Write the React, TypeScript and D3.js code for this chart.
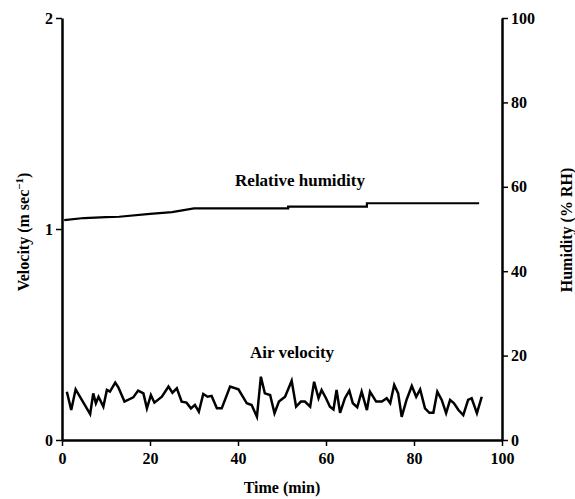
import React, { useEffect, useRef } from 'react';
import * as d3 from 'd3';

// air velocity (m/s)
const velTime = [1.1, 2.1, 3.1, 6.4, 7.1, 7.7, 8.3, 9.4, 10.2, 10.9, 12.1, 12.8, 14.2, 16.2, 17.3, 18.5, 19.3, 20.2, 21.0, 22.7, 24.2, 25.1, 26.1, 27.2, 28.3, 29.3, 30.2, 31.1, 32.1, 33.1, 34.0, 35.2, 36.3, 38.2, 40.1, 42.0, 43.1, 44.3, 45.2, 46.1, 47.3, 48.3, 49.3, 50.7, 52.2, 53.2, 54.3, 55.2, 56.4, 57.3, 58.3, 59.0, 60.0, 60.9, 61.7, 62.4, 63.2, 64.3, 65.3, 66.1, 67.1, 68.1, 69.3, 70.0, 71.4, 72.7, 73.8, 74.6, 75.5, 76.4, 77.2, 78.3, 79.5, 80.5, 81.4, 82.5, 83.5, 84.4, 85.3, 86.3, 87.3, 88.2, 89.1, 90.1, 91.2, 92.3, 93.1, 94.3, 95.4];
const velValue = [0.229, 0.142, 0.24, 0.123, 0.221, 0.174, 0.205, 0.158, 0.237, 0.229, 0.272, 0.25, 0.182, 0.202, 0.234, 0.221, 0.15, 0.213, 0.177, 0.205, 0.253, 0.224, 0.245, 0.182, 0.177, 0.15, 0.166, 0.134, 0.218, 0.205, 0.209, 0.15, 0.15, 0.253, 0.24, 0.174, 0.166, 0.11, 0.3, 0.221, 0.213, 0.127, 0.182, 0.205, 0.281, 0.158, 0.182, 0.182, 0.158, 0.276, 0.198, 0.237, 0.198, 0.158, 0.145, 0.237, 0.129, 0.198, 0.234, 0.174, 0.155, 0.229, 0.142, 0.229, 0.182, 0.182, 0.198, 0.174, 0.261, 0.221, 0.11, 0.19, 0.256, 0.205, 0.24, 0.15, 0.129, 0.129, 0.229, 0.19, 0.127, 0.19, 0.174, 0.142, 0.118, 0.19, 0.198, 0.127, 0.205];

// relative humidity (% RH), a slow stepped rise
const rhTime = [0.5, 5, 10, 13, 20, 25, 30, 51.4, 51.4, 69.3, 69.3, 94.8];
const rhValue = [52.1, 52.6, 52.8, 52.9, 53.6, 54.0, 54.9, 54.9, 55.3, 55.3, 56.1, 56.1];

const timeTicks = [0, 20, 40, 60, 80, 100];
const velTicks = [0, 1, 2];
const rhTicks = [0, 20, 40, 60, 80, 100];

const App = () => {
  const svgRef = useRef<SVGSVGElement>(null);

  useEffect(() => {
    const width = 575;
    const height = 499;
    const left = 62, right = 502, top = 18, bottom = 440;
    const font = '"Liberation Serif", "Times New Roman", serif';

    const svg = d3.select(svgRef.current);
    svg.selectAll('*').remove();
    svg.attr('width', width).attr('height', height);

    const x = d3.scaleLinear().domain([0, 100]).range([left, right]);
    const yVel = d3.scaleLinear().domain([0, 2]).range([bottom, top]);
    const yRh = d3.scaleLinear().domain([0, 100]).range([bottom, top]);

    const styleAxis = (g: any) => {
      g.select('.domain').attr('stroke', '#000').attr('stroke-width', 2.5);
      g.selectAll('.tick line').attr('stroke', '#000').attr('stroke-width', 1.5);
      g.selectAll('.tick text')
        .attr('fill', '#000')
        .style('font-family', font)
        .style('font-size', '16px')
        .style('font-weight', 'bold');
    };

    svg.append('g')
      .attr('transform', `translate(0,${bottom})`)
      .call(d3.axisBottom(x).tickValues(timeTicks).tickSize(6).tickSizeOuter(0).tickPadding(7))
      .call(styleAxis);

    svg.append('g')
      .attr('transform', `translate(${left},0)`)
      .call(d3.axisLeft(yVel).tickValues(velTicks).tickFormat(d3.format('d')).tickSize(6).tickSizeOuter(0).tickPadding(3))
      .call(styleAxis);

    svg.append('g')
      .attr('transform', `translate(${right},0)`)
      .call(d3.axisRight(yRh).tickValues(rhTicks).tickSize(6).tickSizeOuter(0).tickPadding(3))
      .call(styleAxis);

    const velData = velTime.map((t, i) => [t, velValue[i]] as [number, number]);
    const rhData = rhTime.map((t, i) => [t, rhValue[i]] as [number, number]);

    svg.append('path')
      .datum(velData)
      .attr('fill', 'none')
      .attr('stroke', '#000')
      .attr('stroke-width', 2.5)
      .attr('stroke-linejoin', 'miter')
      .attr('d', d3.line<[number, number]>().x(d => x(d[0])).y(d => yVel(d[1])));

    svg.append('path')
      .datum(rhData)
      .attr('fill', 'none')
      .attr('stroke', '#000')
      .attr('stroke-width', 2.2)
      .attr('d', d3.line<[number, number]>().x(d => x(d[0])).y(d => yRh(d[1])));

    const label = (txt: string, tx: number, ty: number) =>
      svg.append('text')
        .attr('x', tx).attr('y', ty)
        .attr('text-anchor', 'middle')
        .style('font-family', font)
        .style('font-size', '17px')
        .style('font-weight', 'bold')
        .text(txt);

    label('Relative humidity', 300, 186);
    label('Air velocity', 292, 358);

    svg.append('text')
      .attr('x', 282).attr('y', 493)
      .attr('text-anchor', 'middle')
      .style('font-family', font)
      .style('font-size', '16px')
      .style('font-weight', 'bold')
      .text('Time (min)');

    const vt = svg.append('text')
      .attr('transform', `translate(29,232) rotate(-90)`)
      .attr('text-anchor', 'middle')
      .style('font-family', font)
      .style('font-size', '16px')
      .style('font-weight', 'bold');
    vt.append('tspan').text('Velocity (m sec');
    vt.append('tspan').attr('dy', -6).style('font-size', '11px').text('−1');
    vt.append('tspan').attr('dy', 6).text(')');

    svg.append('text')
      .attr('transform', `translate(572,230) rotate(-90)`)
      .attr('text-anchor', 'middle')
      .style('font-family', font)
      .style('font-size', '16px')
      .style('font-weight', 'bold')
      .text('Humidity (% RH)');
  }, []);

  return <svg ref={svgRef} style={{ position: 'absolute', left: 0, top: 0 }}></svg>;
};

export default App;
